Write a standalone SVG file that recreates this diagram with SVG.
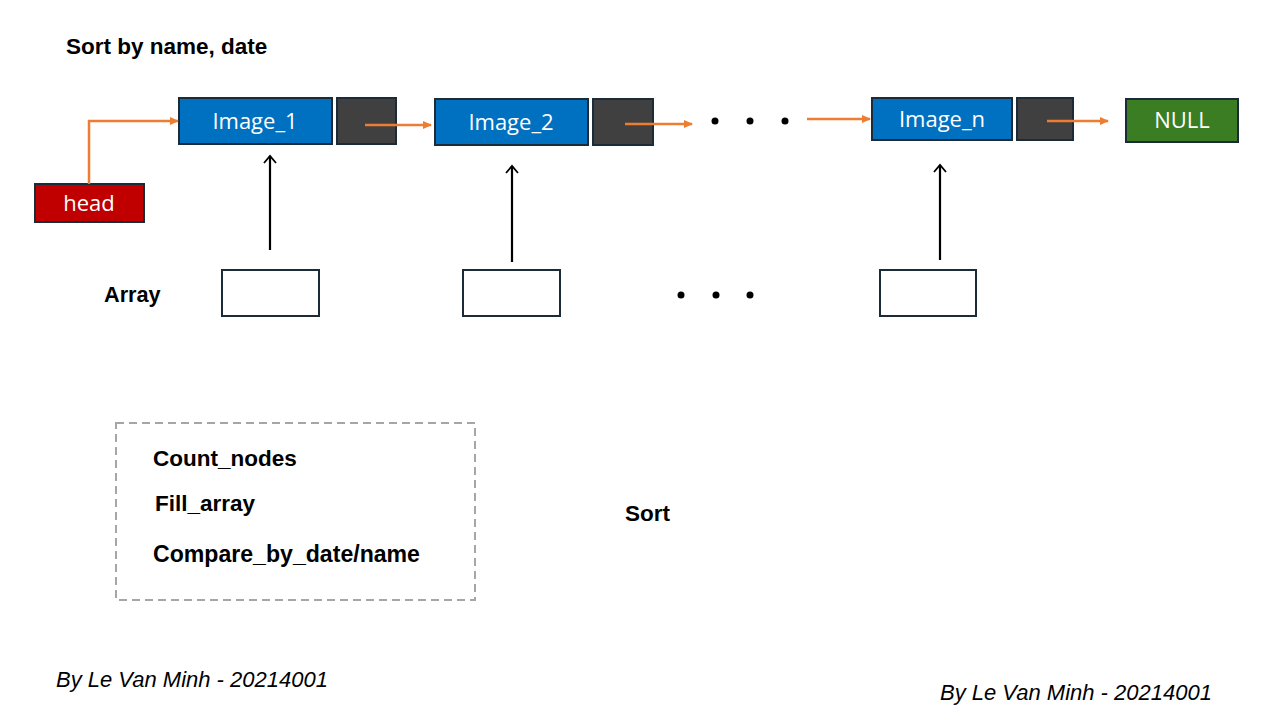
<svg xmlns="http://www.w3.org/2000/svg" width="1279" height="720" viewBox="0 0 1279 720">
<defs>
<marker id="ao" markerWidth="10" markerHeight="10" refX="8" refY="5" orient="auto" markerUnits="userSpaceOnUse"><path d="M0,1 L9,5 L0,9 Z" fill="#ED7D31"/></marker>
<marker id="ab" markerWidth="14" markerHeight="14" refX="8" refY="7" orient="auto" markerUnits="userSpaceOnUse"><path d="M1,1 L8,7 L1,13" fill="none" stroke="#000" stroke-width="1.8"/></marker>
<style>
.box{stroke:#1c2b3a;stroke-width:2}
.lbl{font-family:"Open Sans","Liberation Sans",sans-serif;font-size:22px;fill:#fff;text-anchor:middle;dominant-baseline:central}
.bold{font-family:"Liberation Sans",Arial,sans-serif;font-weight:bold;font-size:22.5px;fill:#000}
.ital{font-family:"Liberation Sans",Arial,sans-serif;font-style:italic;font-size:22px;fill:#000}
.or{stroke:#ED7D31;stroke-width:2.5;fill:none;marker-end:url(#ao)}
.bk{stroke:#000;stroke-width:2.2;fill:none}
</style>
</defs>
<rect width="1279" height="720" fill="#fff"/>
<text class="bold" x="66" y="54">Sort by name, date</text>
<g id="head"><rect class="box" x="35" y="184" width="109" height="38" fill="#C00000"/><text class="lbl" x="89" y="202">head</text></g>
<g id="image1"><rect class="box" x="179" y="98" width="153" height="46" fill="#0070C0"/><text class="lbl" x="255" y="120">Image_1</text></g>
<g id="next1"><rect class="box" x="337" y="98" width="59" height="46" fill="#404040"/></g>
<g id="image2"><rect class="box" x="435" y="99" width="153" height="46" fill="#0070C0"/><text class="lbl" x="511" y="121">Image_2</text></g>
<g id="next2"><rect class="box" x="593" y="99" width="60" height="46" fill="#404040"/></g>
<g id="imagen"><rect class="box" x="872" y="98" width="140" height="42" fill="#0070C0"/><text class="lbl" x="942" y="118">Image_n</text></g>
<g id="nextn"><rect class="box" x="1017" y="98" width="56" height="42" fill="#404040"/></g>
<g id="null"><rect class="box" x="1126" y="99" width="112" height="43" fill="#3A7D22"/><text class="lbl" x="1182" y="119">NULL</text></g>
<g id="dots-top" fill="#000"><circle cx="715" cy="121" r="3.5"/><circle cx="750" cy="121" r="3.5"/><circle cx="785" cy="121" r="3.5"/></g>
<text class="bold" x="104" y="302" style="font-size:21.7px">Array</text>
<g id="arr1"><rect class="box" x="222" y="270" width="97" height="46" fill="#fff"/></g>
<g id="arr2"><rect class="box" x="463" y="270" width="97" height="46" fill="#fff"/></g>
<g id="arrn"><rect class="box" x="880" y="270" width="96" height="46" fill="#fff"/></g>
<g id="dots-arr" fill="#000"><circle cx="681" cy="295" r="3.5"/><circle cx="716" cy="295" r="3.5"/><circle cx="750" cy="295" r="3.5"/></g>
<g id="connectors">
<path class="or" d="M89,184 V121 H178"/>
<path class="or" d="M365,125 H431"/>
<path class="or" d="M625,124 H692"/>
<path class="or" d="M807,119 H870"/>
<path class="or" d="M1047,121 H1108"/>
<path class="bk" d="M270,250 V156" marker-end="url(#ab)"/>
<path class="bk" d="M512,262 V166" marker-end="url(#ab)"/>
<path class="bk" d="M940,260 V165" marker-end="url(#ab)"/>
</g>
<g id="funcs">
<rect x="116" y="423" width="359" height="177" fill="none" stroke="#A6A6A6" stroke-width="2" stroke-dasharray="8,5"/>
<text class="bold" x="153" y="466">Count_nodes</text>
<text class="bold" x="155" y="511">Fill_array</text>
<text class="bold" x="153" y="562" style="font-size:23.1px">Compare_by_date/name</text>
</g>
<text class="bold" x="625" y="521">Sort</text>
<text class="ital" x="56" y="687">By Le Van Minh - 20214001</text>
<text class="ital" x="940" y="700">By Le Van Minh - 20214001</text>
</svg>
